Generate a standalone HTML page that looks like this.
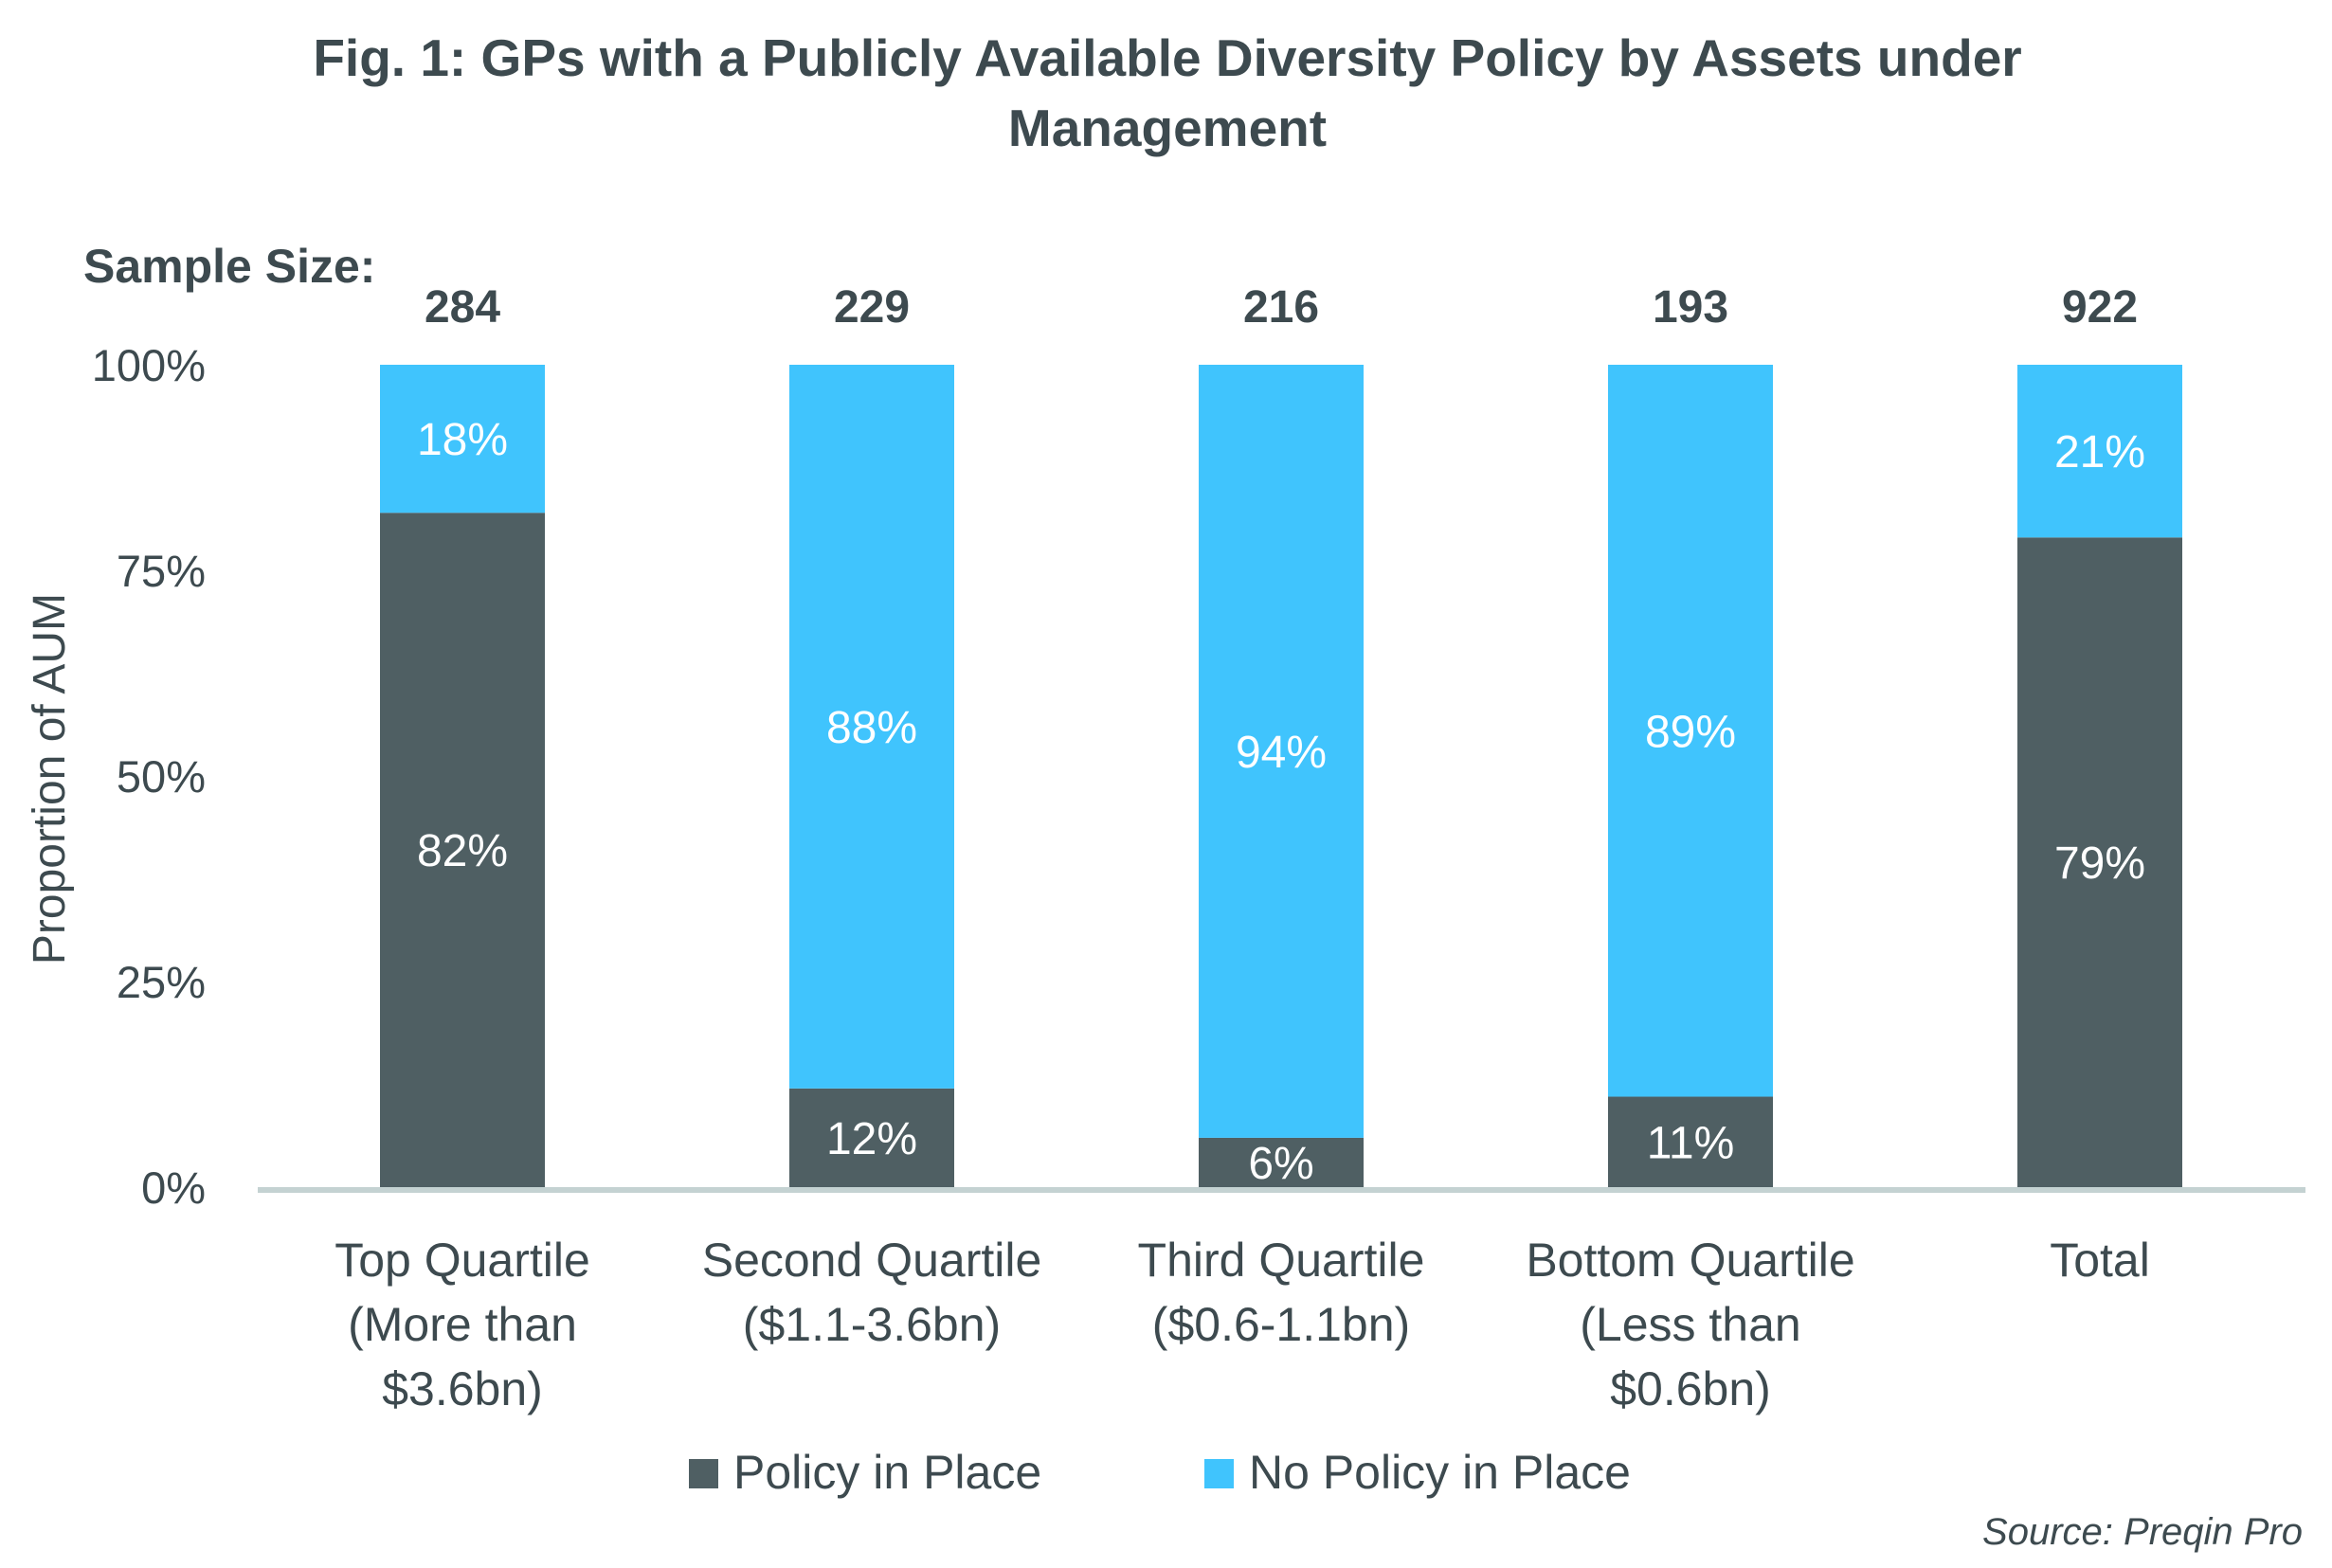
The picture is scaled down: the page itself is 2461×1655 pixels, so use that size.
<!DOCTYPE html>
<html><head><meta charset="utf-8">
<style>
body{margin:0;background:#fff;}
svg{display:block;font-family:"Liberation Sans",sans-serif;}
</style></head>
<body>
<svg id="chart" width="2461" height="1655" viewBox="0 0 2461 1655">
<text x="1232" y="80" text-anchor="middle" font-size="55" font-weight="bold" fill="#3d4a4f">Fig. 1: GPs with a Publicly Available Diversity Policy by Assets under</text>
<text x="1232" y="154" text-anchor="middle" font-size="55" font-weight="bold" fill="#3d4a4f">Management</text>
<text x="88" y="298" font-size="50" font-weight="bold" fill="#3d4a4f">Sample Size:</text>
<text transform="translate(68,822) rotate(-90)" text-anchor="middle" font-size="48" fill="#3d4a4f">Proportion of AUM</text>
<g id="plot"></g>
<g>
<rect x="727" y="1540" width="31" height="31" fill="#4f5f63"/>
<text x="774" y="1571" font-size="50" fill="#3d4a4f">Policy in Place</text>
<rect x="1271" y="1540" width="31" height="31" fill="#40c4fd"/>
<text x="1318" y="1571" font-size="50" fill="#3d4a4f">No Policy in Place</text>
</g>
<text x="2430" y="1630" text-anchor="end" font-size="40" font-style="italic" fill="#3d4a4f">Source: Preqin Pro</text>
</svg>
<script>
const categories = [["Top Quartile","(More than","$3.6bn)"],["Second Quartile","($1.1-3.6bn)"],["Third Quartile","($0.6-1.1bn)"],["Bottom Quartile","(Less than","$0.6bn)"],["Total"]];
const sampleSizes = [284,229,216,193,922];
const policy = [82,12,6,11,79];
const noPolicy = [18,88,94,89,21];
const yTicks = [0,25,50,75,100];

const NS="http://www.w3.org/2000/svg";
const g=document.getElementById('plot');
const y0=1253,y1=385,xStart=272,xEnd=2433,firstC=488,step=432,bw=174;
const y=v=>y0-(v/100)*(y0-y1);
const x=i=>firstC+i*step;
function el(t,a,txt){const e=document.createElementNS(NS,t);for(const k in a)e.setAttribute(k,a[k]);if(txt!=null)e.textContent=txt;g.appendChild(e);return e;}

yTicks.forEach(t=>{
  const e=el('text',{x:217,y:y(t)+17,'text-anchor':'end','font-size':47,fill:'#3d4a4f'},t+'%');
  
  
});
categories.forEach((c,i)=>{
  const cx=x(i);
  const r1=el('rect',{x:cx-bw/2,y:y(policy[i]),width:bw,height:y0-y(policy[i]),fill:'#4f5f63'});
  
  
  const r2=el('rect',{x:cx-bw/2,y:y(policy[i]+noPolicy[i]),width:bw,height:y(policy[i])-y(policy[i]+noPolicy[i]),fill:'#40c4fd'});
  
  
  const l1=el('text',{x:cx,y:(y0+y(policy[i]))/2+17,'text-anchor':'middle','font-size':48,fill:'#fff'},policy[i]+'%');
  
  
  const l2=el('text',{x:cx,y:(y(policy[i])+y(policy[i]+noPolicy[i]))/2+17,'text-anchor':'middle','font-size':48,fill:'#fff'},noPolicy[i]+'%');
  
  
  const s=el('text',{x:cx,y:340,'text-anchor':'middle','font-size':48,'font-weight':'bold',fill:'#3d4a4f'},sampleSizes[i]);
  
  
  c.forEach((line,j)=>{
    const t=el('text',{x:cx,y:1347+j*68,'text-anchor':'middle','font-size':50,fill:'#3d4a4f'},line);
    
    
  });
});
const ax=el('line',{x1:xStart,x2:xEnd,y1:y0+3,y2:y0+3,stroke:'#c4d2d2','stroke-width':6});


</script>
</body></html>
